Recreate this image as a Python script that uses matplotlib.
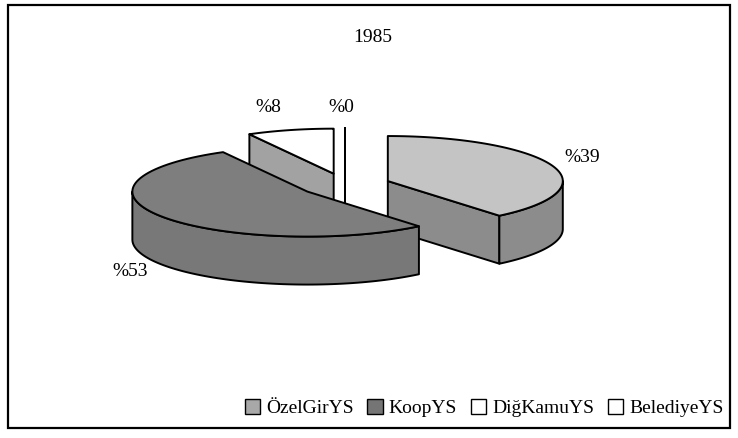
import numpy as np
import matplotlib.pyplot as plt
from matplotlib.patches import Polygon, Rectangle, Patch

# data
labels = ["ÖzelGirYS", "KoopYS", "DiğKamuYS", "BelediyeYS"]
values = [39, 53, 8, 0]
pct_labels = ["%39", "%53", "%8", "%0"]
title = "1985"

# styles
top_colors = ["#c4c4c4", "#7e7e7e", "#ffffff", "#ffffff"]
side_colors = ["#8c8c8c", "#787878", "#a2a2a2", "#a2a2a2"]
legend_colors = ["#a8a8a8", "#757575", "#ffffff", "#ffffff"]
label_pos = [(582, 157), (130, 272), (268, 108), (341, 108)]
draw_order = [2, 3, 0, 1]

# pie geometry (pixels)
cx, cy = 345, 185
rx, ry = 175, 45
depth = 48
explode = 0.26

fig = plt.figure(figsize=(7.38, 4.38), dpi=100)
ax = fig.add_axes([0, 0, 1, 1])
ax.set_xlim(0, 738)
ax.set_ylim(438, 0)
ax.axis("off")

total = sum(values)
ends = np.cumsum(values) / total * 360
starts = np.concatenate([[0], ends[:-1]])


def arc(c, a0, a1, dy=0, n=80):
    th = np.radians(np.linspace(a0, a1, n))
    return np.column_stack([c[0] + rx * np.sin(th), c[1] - ry * np.cos(th) + dy])


def face(c, a):
    t = np.radians(a)
    rxp, ryp = c[0] + rx * np.sin(t), c[1] - ry * np.cos(t)
    return [(c[0], c[1]), (rxp, ryp), (rxp, ryp + depth), (c[0], c[1] + depth)]


kw = dict(edgecolor="black", linewidth=1.4, joinstyle="round")
for i in draw_order:
    s, e = starts[i], ends[i]
    mid = np.radians((s + e) / 2)
    c = (cx + explode * rx * np.sin(mid), cy - explode * ry * np.cos(mid))
    if e - s <= 0:
        ax.add_patch(Polygon(face(c, s), closed=True, facecolor=side_colors[i], **kw))
        continue
    # cut faces that face the viewer
    if np.sin(np.radians(s)) < -1e-6:
        ax.add_patch(Polygon(face(c, s), closed=True, facecolor=side_colors[i], **kw))
    if np.sin(np.radians(e)) > 1e-6:
        ax.add_patch(Polygon(face(c, e), closed=True, facecolor=side_colors[i], **kw))
    # outer wall (front half)
    a0, a1 = max(s, 90), min(e, 270)
    if a1 > a0:
        pts = np.vstack([arc(c, a0, a1), arc(c, a1, a0, depth)])
        ax.add_patch(Polygon(pts, closed=True, facecolor=side_colors[i], **kw))
    # top
    pts = np.vstack([[c], arc(c, s, e)])
    ax.add_patch(Polygon(pts, closed=True, facecolor=top_colors[i], **kw))

for txt, (x, y) in zip(pct_labels, label_pos):
    ax.text(x, y, txt, ha="center", va="center", fontsize=14, family="Liberation Serif")

ax.text(373, 38, title, ha="center", va="center", fontsize=14, family="Liberation Serif")

ax.add_patch(Rectangle((8, 5), 722, 423, fill=False, edgecolor="black", linewidth=1.6))

handles = [Patch(facecolor=col, edgecolor="black", linewidth=1.0) for col in legend_colors]
ax.legend(handles, labels, ncol=4, loc="center", bbox_to_anchor=(484 / 738, 1 - 408 / 438),
          frameon=False, handlelength=0.8, handleheight=0.8, handletextpad=0.3,
          columnspacing=0.7, prop={"family": "Liberation Serif", "size": 14})

fig.savefig("out.png", dpi=100)
